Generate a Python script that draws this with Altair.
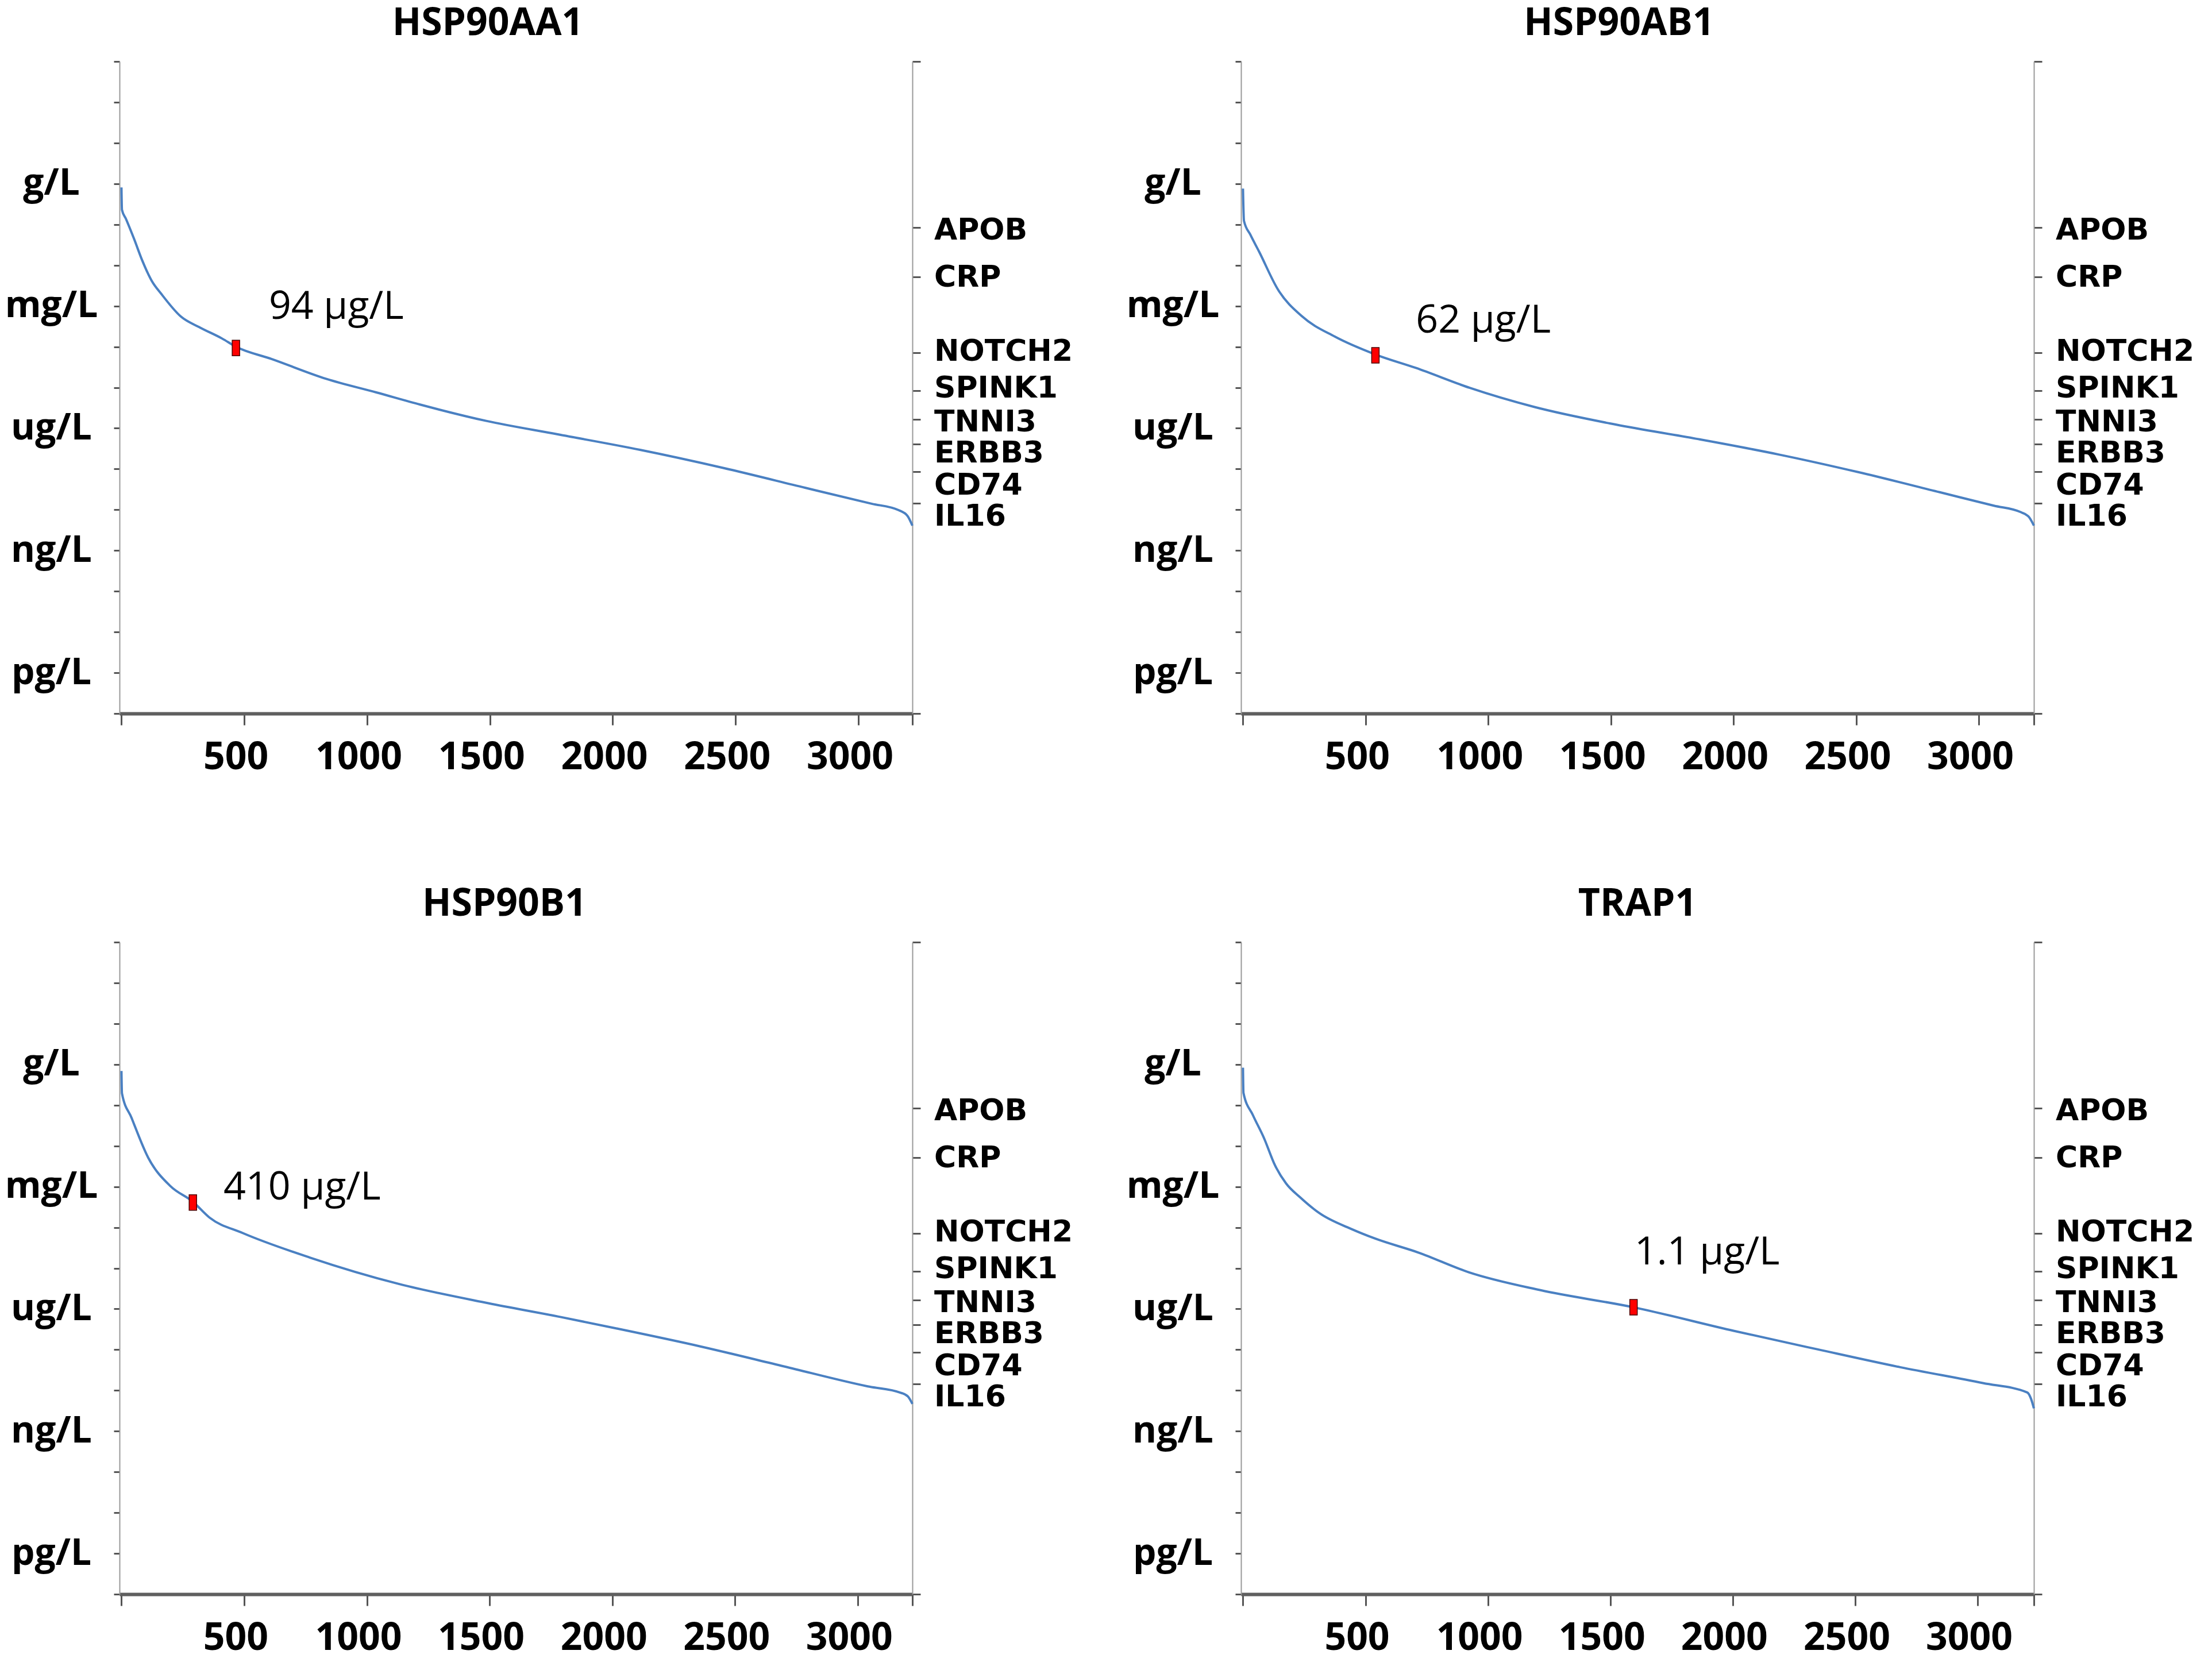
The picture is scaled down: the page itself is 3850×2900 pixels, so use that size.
import altair as alt
import pandas as pd

# ---------------- data ----------------
titles = ["HSP90AA1", "HSP90AB1", "HSP90B1", "TRAP1"]

rank_1 = [0, 2, 18, 51, 85, 123, 163, 242, 320, 410, 466, 611, 835, 1037, 1216, 1485, 1776, 2111, 2447, 2783, 3052, 3164, 3200, 3220]
logc_1 = [-0.09, -0.64, -0.86, -1.35, -1.89, -2.38, -2.71, -3.26, -3.53, -3.80, -4.00, -4.30, -4.79, -5.12, -5.42, -5.82, -6.15, -6.53, -6.97, -7.46, -7.85, -8.01, -8.15, -8.39]

rank_2 = [0, 4, 30, 66, 143, 242, 374, 540, 705, 925, 1189, 1520, 1850, 2181, 2511, 2841, 3062, 3172, 3205, 3225]
logc_2 = [-0.12, -0.91, -1.25, -1.67, -2.60, -3.26, -3.75, -4.19, -4.52, -5.01, -5.48, -5.91, -6.26, -6.64, -7.08, -7.57, -7.90, -8.06, -8.18, -8.39]

rank_3 = [0, 2, 41, 109, 200, 291, 359, 495, 768, 1132, 1495, 1791, 2018, 2359, 2700, 3041, 3177, 3205, 3223]
logc_3 = [-0.16, -0.71, -1.31, -2.29, -2.99, -3.37, -3.76, -4.14, -4.74, -5.39, -5.86, -6.20, -6.48, -6.92, -7.41, -7.90, -8.06, -8.15, -8.33]

rank_4 = [0, 2, 41, 86, 131, 176, 233, 312, 447, 538, 718, 922, 1215, 1595, 2006, 2345, 2684, 3022, 3203, 3218, 3230]
logc_4 = [-0.08, -0.70, -1.25, -1.81, -2.48, -2.92, -3.26, -3.65, -4.05, -4.27, -4.62, -5.10, -5.54, -5.96, -6.54, -6.99, -7.43, -7.82, -8.05, -8.20, -8.44]

ranks = [rank_1, rank_2, rank_3, rank_4]
logcs = [logc_1, logc_2, logc_3, logc_4]

marker_rank = [466, 540, 291, 1595]
marker_logc = [-4.03, -4.21, -3.39, -5.96]
ann_text = ["94 µg/L", "62 µg/L", "410 µg/L", "1.1 µg/L"]
ann_rank = [600, 705, 416, 1599]
ann_logc = [-3.04, -3.37, -3.03, -4.62]
x_max = [3220, 3225, 3223, 3230]

unit_labels = ["g/L", "mg/L", "ug/L", "ng/L", "pg/L"]
unit_logc = [0, -3, -6, -9, -12]

protein_names = ["APOB", "CRP", "NOTCH2", "SPINK1", "TNNI3", "ERBB3", "CD74", "IL16"]
protein_tick_logc = [-1.07, -2.28, -4.15, -5.08, -5.78, -6.39, -7.06, -7.84]
protein_label_logc = [-1.15, -2.30, -4.12, -5.02, -5.85, -6.61, -7.40, -8.16]

x_tick_values = [0, 500, 1000, 1500, 2000, 2500, 3000]
y_min, y_max = -13, 3

# ---------------- style ----------------
W, H = 1380, 1135
BLUE = "#4a80c2"
BOLD_FONT = "Open Sans"
title_dx = [-49, -32, -20, 0]

unit_expr = " : ".join(f"datum.value == {v} ? '{l}'" for v, l in zip(unit_logc, unit_labels)) + " : ''"


def panel(i):
    xmax = x_max[i]
    xscale = alt.Scale(domain=[-8, xmax], nice=False, zero=False)
    xaxis = alt.Axis(
        values=x_tick_values + [xmax],
        labelExpr="(datum.value >= 500 && datum.value <= 3000) ? format(datum.value, 'd') : ''",
        title=None, grid=False,
        domainColor="#5f5f5f", domainWidth=6,
        tickColor="#555555", tickWidth=3, tickSize=20,
        labelFont=BOLD_FONT, labelFontWeight="bold", labelFontSize=66, labelColor="black",
        labelPadding=24, labelOffset=-15, labelFlush=False, labelOverlap=False,
    )
    yscale = alt.Scale(domain=[y_min, y_max], nice=False, zero=False)
    left_axis = alt.Axis(
        values=list(range(y_max, y_min - 1, -1)),
        labelExpr=unit_expr, title=None, grid=False,
        domainColor="#999999", domainWidth=2,
        tickColor="#555555", tickWidth=3, tickSize=10,
        labelFont=BOLD_FONT, labelFontWeight="bold", labelFontSize=64, labelColor="black",
        labelAlign="center", labelPadding=109, labelFlush=False, labelOverlap=False,
    )
    right_axis = alt.Axis(
        orient="right", values=[y_max] + protein_tick_logc + [y_min],
        labels=False, title=None, grid=False,
        domainColor="#999999", domainWidth=2,
        tickColor="#555555", tickWidth=3, tickSize=14,
    )

    df = pd.DataFrame({"rank": ranks[i], "logc": logcs[i]})
    line = alt.Chart(df).mark_line(color=BLUE, strokeWidth=4, interpolate="monotone").encode(
        x=alt.X("rank:Q", scale=xscale, axis=xaxis),
        y=alt.Y("logc:Q", scale=yscale, axis=left_axis),
    )

    mdf = pd.DataFrame({"rank": [marker_rank[i]], "logc": [marker_logc[i]]})
    marker = alt.Chart(mdf).mark_point(
        shape="M-0.48,-1L0.48,-1L0.48,1L-0.48,1Z", size=729,
        filled=True, fill="#ff0000", stroke="#4a0000", strokeWidth=1.5, opacity=1,
    ).encode(
        x=alt.X("rank:Q", scale=xscale, axis=xaxis),
        y=alt.Y("logc:Q", scale=yscale, axis=None),
    )

    adf = pd.DataFrame({"rank": [ann_rank[i]], "logc": [ann_logc[i]], "txt": [ann_text[i]]})
    ann = alt.Chart(adf).mark_text(
        align="left", baseline="middle", font="Open Sans", fontSize=68, color="black",
    ).encode(
        x=alt.X("rank:Q", scale=xscale, axis=xaxis),
        y=alt.Y("logc:Q", scale=yscale, axis=None),
        text="txt:N",
    )

    ldf = pd.DataFrame({"name": protein_names, "lv": protein_label_logc})
    labels = alt.Chart(ldf).mark_text(
        align="left", baseline="middle", font="DejaVu Sans", fontWeight="bold",
        fontSize=52, color="black",
    ).encode(
        x=alt.value(W + 38),
        y=alt.Y("lv:Q", scale=yscale, axis=right_axis),
        text="name:N",
    )

    return alt.layer(line, marker, ann, labels).resolve_scale(y="independent").resolve_axis(
        y="independent"
    ).properties(
        width=W, height=H,
        title=alt.TitleParams(
            text=titles[i], font=BOLD_FONT, fontWeight="bold", fontSize=66,
            color="black", anchor="middle", offset=0, dx=title_dx[i],
        ),
    )


chart = alt.concat(
    panel(0), panel(1), panel(2), panel(3),
    columns=2, spacing={"row": 398, "column": 572}, bounds="flush",
).properties(padding=0, background="white").configure_view(stroke=None)

chart.save("out.html", embed_options={"renderer": "svg", "actions": False})
